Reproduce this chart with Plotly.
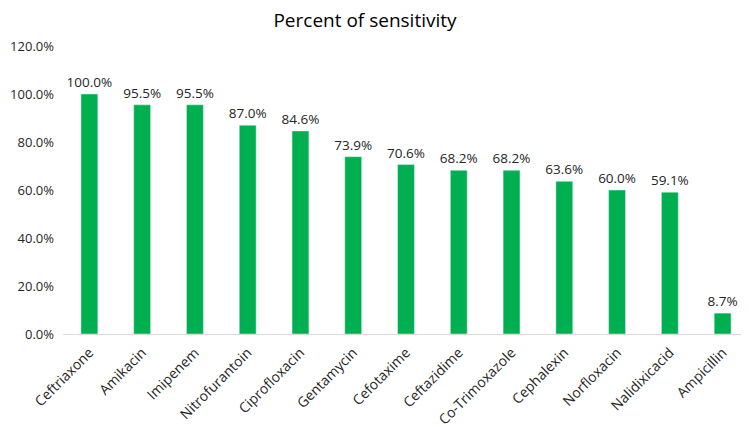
import plotly.graph_objects as go

categories = ["Ceftriaxone", "Amikacin", "Imipenem", "Nitrofurantoin", "Ciprofloxacin",
              "Gentamycin", "Cefotaxime", "Ceftazidime", "Co-Trimoxazole", "Cephalexin",
              "Norfloxacin", "Nalidixicacid", "Ampicillin"]
sensitivity = [1.000, 0.955, 0.955, 0.870, 0.846, 0.739, 0.706, 0.682, 0.682, 0.636, 0.600, 0.591, 0.087]
y_ticks = [0, 0.2, 0.4, 0.6, 0.8, 1.0, 1.2]

font_family = "Open Sans, Noto Sans, sans-serif"
W, H = 741, 419

fig = go.Figure(go.Bar(
    x=categories,
    y=sensitivity,
    marker_color="#00B050",
    texttemplate="%{y:.1%}",
    textposition="outside",
    constraintext="none",
    textfont=dict(size=13.5, color="#262626", family=font_family),
    cliponaxis=False,
))

fig.update_layout(
    width=W, height=H,
    margin=dict(l=55, r=0, t=38, b=93),
    paper_bgcolor="white", plot_bgcolor="white",
    title=dict(text="Percent of sensitivity", x=357 / W, xanchor="center",
               y=(H - 12) / H, yanchor="middle",
               font=dict(size=19, color="#000000", family=font_family)),
    bargap=0.68,
    showlegend=False,
    font=dict(family=font_family, color="#262626"),
)
fig.update_xaxes(
    tickangle=-45, showgrid=False, showline=True, linecolor="#D9D9D9", linewidth=1,
    ticks="", tickfont=dict(size=14, color="#262626"), automargin=False,
    ticklabelstandoff=4,
)
fig.update_yaxes(
    range=[0, 1.2], tickvals=y_ticks, tickformat=".1%", showgrid=False, zeroline=False,
    showline=False, ticks="", tickfont=dict(size=13, color="#262626"), automargin=False,
    ticklabelstandoff=8,
)

fig.write_html("out.html")
